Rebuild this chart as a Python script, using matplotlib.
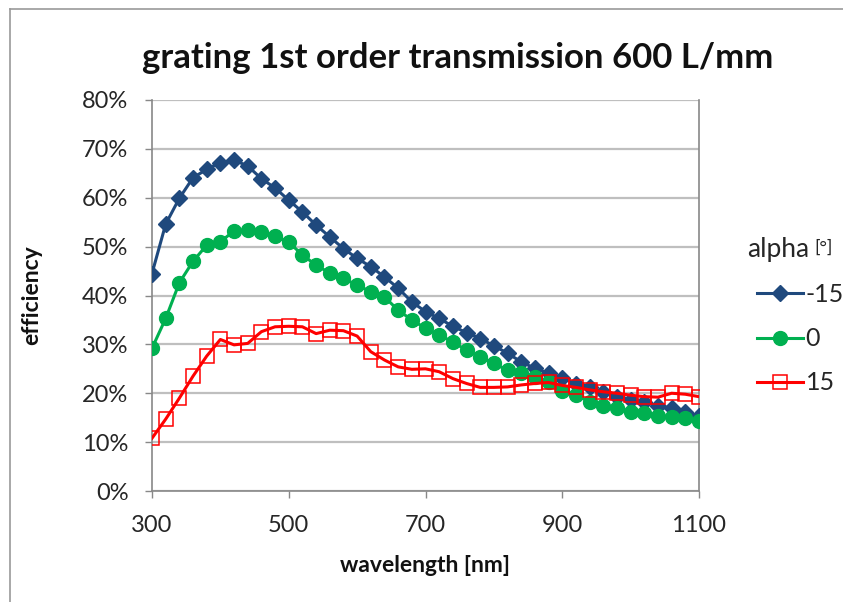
import matplotlib
matplotlib.use("Agg")
import matplotlib.pyplot as plt
from matplotlib.lines import Line2D
from matplotlib.ticker import FuncFormatter

wavelength = list(range(300, 1101, 20))

alpha_m15 = [44.5, 54.6, 59.9, 64.1, 65.8, 67.2, 67.7, 66.5, 63.9, 62.0,
             59.5, 57.1, 54.4, 52.0, 49.6, 47.6, 45.9, 43.8, 41.5, 38.7,
             36.7, 35.3, 33.7, 32.4, 31.2, 29.7, 28.2, 26.4, 25.1, 24.1,
             23.2, 21.9, 21.2, 20.3, 19.3, 18.6, 18.2, 17.4, 16.9, 16.2, 15.3]

alpha_0 = [29.2, 35.3, 42.6, 47.0, 50.3, 51.0, 53.2, 53.4, 53.0, 52.1,
           50.9, 48.3, 46.2, 44.6, 43.5, 42.1, 40.8, 39.7, 37.0, 35.0,
           33.3, 31.9, 30.5, 28.8, 27.5, 26.1, 24.7, 24.1, 23.4, 22.4,
           20.5, 19.6, 18.3, 17.4, 16.9, 16.2, 15.9, 15.3, 15.2, 14.9, 14.4]

alpha_15 = [10.8, 14.7, 19.0, 23.5, 27.6, 31.0, 29.9, 30.2, 32.6, 33.6,
            33.7, 33.6, 32.2, 32.9, 32.8, 31.7, 28.5, 26.8, 25.4, 24.9,
            25.0, 24.4, 23.0, 22.0, 21.2, 21.2, 21.3, 21.7, 22.0, 22.2,
            21.6, 21.2, 20.7, 20.3, 20.0, 19.6, 19.3, 19.2, 20.0, 19.8, 19.3]

series_labels = ["-15", "0", "15"]
x_ticks = [300, 500, 700, 900, 1100]
y_ticks = [0, 10, 20, 30, 40, 50, 60, 70, 80]

W, H = 843, 602
fig = plt.figure(figsize=(W / 100, H / 100), dpi=100)
ax = fig.add_axes([152 / W, 1 - 491 / H, (699 - 152) / W, (491 - 100) / H])

grid_c = "#BFBFBF"
axis_c = "#888888"
text_c = "#262626"

ax.plot(wavelength, alpha_m15, color="#1F497D", lw=2.2, marker="D",
        markersize=8.5, markerfacecolor="#1F497D", markeredgecolor="#1F497D",
        label=series_labels[0], zorder=3)
ax.plot(wavelength, alpha_0, color="#00B050", lw=2.2, marker="o",
        markersize=10, markerfacecolor="#00B050", markeredgecolor="#00B050",
        label=series_labels[1], zorder=3)
ax.plot(wavelength, alpha_15, color="#FF0000", lw=2.2, marker="s",
        markersize=10, markerfacecolor="none", markeredgecolor="#FF0000",
        markeredgewidth=1.1, label=series_labels[2], zorder=4)

ax.set_xlim(300, 1100)
ax.set_ylim(0, 80)
ax.set_xticks(x_ticks)
ax.set_yticks(y_ticks)
ax.yaxis.set_major_formatter(FuncFormatter(lambda v, p: f"{int(v)}%"))
ax.grid(axis="y", color=grid_c, lw=1.6, zorder=0)
ax.set_axisbelow(True)

for side in ["left", "bottom", "right"]:
    ax.spines[side].set_color(axis_c)
    ax.spines[side].set_linewidth(1.2)
ax.spines["top"].set_visible(False)

ax.tick_params(axis="both", colors=axis_c, length=5, width=1.0,
               labelcolor=text_c, labelsize=17)
ax.tick_params(axis="x", pad=12)
ax.tick_params(axis="y", pad=12)
for lab in ax.get_xticklabels() + ax.get_yticklabels():
    lab.set_family("Lato")

fig.text(458 / W, 1 - 58 / H, "grating 1st order transmission 600 L/mm",
         ha="center", va="center", fontsize=25, fontweight="bold",
         family="Lato", color="#111111")
fig.text(425 / W, 1 - 566 / H, "wavelength [nm]", ha="center", va="center",
         fontsize=16.5, fontweight="bold", family="Lato", color="#111111")
fig.text(32 / W, 1 - 295 / H, "efficiency", rotation=90, ha="center",
         va="center", fontsize=16.5, fontweight="bold", family="Lato",
         color="#111111")

# legend
fig.text(747 / W, 1 - 249 / H, "alpha", ha="left", va="center",
         fontsize=19, family="Lato", color=text_c)
fig.text(814 / W, 1 - 248 / H, "[°]", ha="left", va="center",
         fontsize=13, family="Lato", color=text_c)
handles, labels = ax.get_legend_handles_labels()
leg = fig.legend(handles, labels, loc="upper left",
                 bbox_to_anchor=(757 / W, 1 - 283 / H), frameon=False,
                 handlelength=1.85, handletextpad=0.1,
                 labelspacing=0.85, borderaxespad=0, borderpad=0,
                 prop={"family": "Lato", "size": 18})
for t in leg.get_texts():
    t.set_color(text_c)

# outer frame
fig.add_artist(Line2D([10 / W, 1], [1 - 9 / H, 1 - 9 / H], color="#999999",
                      lw=1.2, transform=fig.transFigure))
fig.add_artist(Line2D([10 / W, 10 / W], [0, 1 - 9 / H], color="#999999",
                      lw=1.2, transform=fig.transFigure))

fig.savefig("out.png", dpi=100, facecolor="white")
